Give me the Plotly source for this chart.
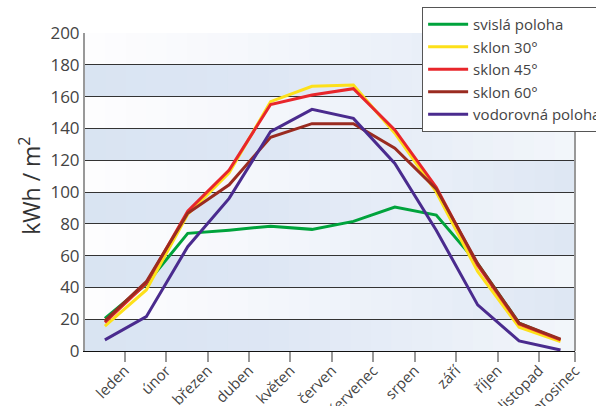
import plotly.graph_objects as go

months = ["leden", "únor", "březen", "duben", "květen", "červen", "červenec",
          "srpen", "září", "říjen", "listopad", "prosinec"]

svisla = [20.5, 42, 74, 76, 78.5, 76.5, 81.5, 90.5, 85.5, 55, 17.5, 7]
sklon30 = [15.7, 38.4, 86, 112, 156.8, 166.5, 167.3, 137, 100, 50, 15, 6]
sklon45 = [18, 42.5, 88, 113.8, 155, 161, 165, 139, 103, 54, 17, 7]
sklon60 = [19, 43.6, 86.6, 104.5, 134.4, 143, 143, 127.5, 102, 55, 17.5, 7.5]
vodorovna = [7, 21.6, 65.6, 96, 138, 152, 146.3, 118, 76, 29, 6.3, 0.6]

series = [
    ("svislá poloha", svisla, "#00a33c"),
    ("sklon 30°", sklon30, "#fde01a"),
    ("sklon 45°", sklon45, "#e8262b"),
    ("sklon 60°", sklon60, "#9a2b20"),
    ("vodorovná poloha", vodorovna, "#4a2b8e"),
]

x_idx = list(range(len(months)))
tick_pos = [i + 0.48 for i in range(len(months) - 1)] + [11.35]

fig = go.Figure()
for name, vals, col in series:
    fig.add_trace(go.Scatter(x=x_idx, y=vals, mode="lines", name=name,
                             line=dict(color=col, width=3)))


def lerp(c1, c2, t):
    a = [int(c1[i:i + 2], 16) for i in (1, 3, 5)]
    b = [int(c2[i:i + 2], 16) for i in (1, 3, 5)]
    return "rgb(%d,%d,%d)" % tuple(round(a[k] + (b[k] - a[k]) * t) for k in range(3))


shapes = []
nslices = 24
for band in range(10):
    y0, y1 = band * 20, band * 20 + 20
    if band % 2 == 0:
        stops = [(0.0, "#d9e4f2"), (0.35, "#dde6f4"), (0.75, "#eaf0f8"), (1.0, "#f3f6fa")]
    else:
        stops = [(0.0, "#fdfdfe"), (0.3, "#f6f8fc"), (0.7, "#e9eff8"), (1.0, "#dde6f3")]
    for s in range(nslices):
        t = (s + 0.5) / nslices
        for j in range(len(stops) - 1):
            if stops[j][0] <= t <= stops[j + 1][0]:
                tt = (t - stops[j][0]) / (stops[j + 1][0] - stops[j][0])
                col = lerp(stops[j][1], stops[j + 1][1], tt)
                break
        shapes.append(dict(type="rect", xref="paper", yref="y", layer="below",
                           x0=s / nslices, x1=(s + 1) / nslices + 0.002, y0=y0, y1=y1,
                           fillcolor=col, line=dict(width=0)))
# right border of plot
shapes.append(dict(type="line", xref="paper", yref="paper", x0=1, x1=1, y0=0, y1=1,
                   line=dict(color="#999999", width=2)))

fig.update_layout(
    width=596, height=406,
    margin=dict(l=85, r=21, t=33, b=55, autoexpand=False),
    paper_bgcolor="white",
    plot_bgcolor="white",
    font=dict(family="Open Sans, sans-serif", color="#444444"),
    shapes=shapes,
    showlegend=True,
    legend=dict(x=0.688, y=1.082, xanchor="left", yanchor="top",
                bgcolor="white", bordercolor="#555555", borderwidth=1,
                font=dict(size=15, color="#444444"),
                tracegroupgap=0, itemwidth=40),
    xaxis=dict(range=[-0.48, 11.35], tickmode="array", tickvals=tick_pos,
               ticktext=months, tickangle=-45, showgrid=False, zeroline=False,
               automargin=False, ticklabeloverflow="allow", ticklabelstandoff=-6,
               ticks="outside", ticklen=10, tickwidth=2, tickcolor="#999999",
               showline=True, linecolor="#111111", linewidth=1,
               tickfont=dict(size=15, color="#444444")),
    yaxis=dict(range=[0, 200], tickmode="array", tickvals=list(range(0, 201, 20)),
               showgrid=True, gridcolor="#333333", gridwidth=1, zeroline=False,
               automargin=False,
               showline=True, linecolor="#999999", linewidth=2, ticks="",
               tickfont=dict(size=17, color="#444444")),
    annotations=[dict(text="kWh / m<sup>2</sup>", xref="paper", yref="paper",
                      x=-0.112, y=0.52, xanchor="center", yanchor="middle",
                      textangle=-90, showarrow=False,
                      font=dict(size=23, color="#333333"))],
)

fig.write_html("out.html", config={"displayModeBar": False},
               post_script="document.body.style.margin='0';document.body.style.overflow='hidden';")
